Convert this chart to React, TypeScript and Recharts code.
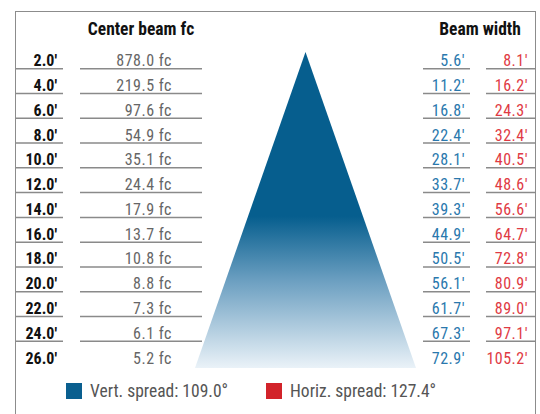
import { ComposedChart, Area, XAxis, YAxis, Legend } from 'recharts';

// rows of the photometric table
const DISTANCES = [2, 4, 6, 8, 10, 12, 14, 16, 18, 20, 22, 24, 26];
const CENTER_FC = [878.0, 219.5, 97.6, 54.9, 35.1, 24.4, 17.9, 13.7, 10.8, 8.8, 7.3, 6.1, 5.2];
const VERT_WIDTH = [5.6, 11.2, 16.8, 22.4, 28.1, 33.7, 39.3, 44.9, 50.5, 56.1, 61.7, 67.3, 72.9];
const HORIZ_WIDTH = [8.1, 16.2, 24.3, 32.4, 40.5, 48.6, 56.6, 64.7, 72.8, 80.9, 89.0, 97.1, 105.2];

// light cone: apex and base (distance, [left, right])
const CONE_DIST = [1.3, 26.8];
const CONE_SPREAD: [number, number][] = [[0, 0], [-1, 1]];

const LEGEND_LABELS = ['Vert. spread: 109.0°', 'Horiz. spread: 127.4°'];
const LEGEND_COLORS = ['#0a5f8f', '#d2232a'];

const FONT = "'Liberation Sans Narrow', 'Arial Narrow', 'Roboto Condensed', sans-serif";
const BLUE_TEXT = '#2a78ad';
const RED_TEXT = '#e03a44';
const RULE = '#8a8a8a';

const chartData = [
  { dist: CONE_DIST[0], cone: CONE_SPREAD[0] },
  ...DISTANCES.map((dist, i) => ({
    dist,
    fc: CENTER_FC[i],
    vert: VERT_WIDTH[i],
    horiz: HORIZ_WIDTH[i],
  })),
  { dist: CONE_DIST[1], cone: CONE_SPREAD[1] },
];

const fmtFeet = (v: number) => `${v.toFixed(1)}'`;

function renderRowTick(props: any) {
  const { y, payload } = props;
  const i = DISTANCES.indexOf(Number(payload.value));
  if (i < 0) return <g />;
  const last = i === DISTANCES.length - 1;
  const base = y + 5.5;
  const ruleY = y + 8;
  const valueStyle = { fontFamily: FONT, fontSize: 16, letterSpacing: 0.5 };
  return (
    <g key={`row-${i}`}>
      <text x={57} y={base} textAnchor="end" fill="#111" style={{ fontFamily: FONT, fontSize: 16, fontWeight: 700 }}>
        {fmtFeet(DISTANCES[i])}
      </text>
      <text x={172} y={base} textAnchor="end" fill="#666" style={valueStyle}>
        {`${CENTER_FC[i].toFixed(1)} fc`}
      </text>
      <text x={465} y={base} textAnchor="end" fill={BLUE_TEXT} style={valueStyle}>
        {fmtFeet(VERT_WIDTH[i])}
      </text>
      <text x={528} y={base} textAnchor="end" fill={RED_TEXT} style={valueStyle}>
        {fmtFeet(HORIZ_WIDTH[i])}
      </text>
      {!last && (
        <g stroke={RULE} strokeWidth={1.5}>
          <line x1={16} x2={63} y1={ruleY} y2={ruleY} />
          <line x1={80} x2={202} y1={ruleY} y2={ruleY} />
          <line x1={423} x2={470} y1={ruleY} y2={ruleY} />
          <line x1={486} x2={536} y1={ruleY} y2={ruleY} />
        </g>
      )}
    </g>
  );
}

function SpreadLegend() {
  return (
    <div style={{ display: 'flex', alignItems: 'center', fontFamily: FONT, fontSize: 17.5, color: '#555' }}>
      {LEGEND_LABELS.map((label, i) => (
        <div key={label} style={{ display: 'flex', alignItems: 'center', width: 200 }}>
          <span style={{ width: 16, height: 16, background: LEGEND_COLORS[i], marginRight: 8, display: 'inline-block' }} />
          <span>{label}</span>
        </div>
      ))}
    </div>
  );
}

export default function App() {
  return (
    <div style={{ position: 'absolute', left: 0, top: 0, width: 540, height: 414, overflow: 'hidden', background: '#fff' }}>
      <div
        style={{
          position: 'absolute',
          left: 15,
          top: 11,
          width: 519,
          height: 420,
          borderLeft: '1.5px solid #8c8c8c',
          borderTop: '1.5px solid #8c8c8c',
          borderRight: '1.5px solid #8c8c8c',
        }}
      />
      <ComposedChart
        width={540}
        height={414}
        data={chartData}
        layout="vertical"
        margin={{ top: 52, right: 124, bottom: 46, left: 194 }}
      >
        <defs>
          <linearGradient id="coneFill" x1="0" y1="0" x2="0" y2="1">
            <stop offset="0" stopColor="#065e8e" />
            <stop offset="0.52" stopColor="#065e8e" />
            <stop offset="0.72" stopColor="#6a9ec0" />
            <stop offset="1" stopColor="#eaf2f8" />
          </linearGradient>
        </defs>
        <XAxis type="number" domain={[-1, 1]} hide />
        <YAxis
          type="number"
          dataKey="dist"
          domain={[CONE_DIST[0], CONE_DIST[1]]}
          ticks={DISTANCES}
          interval={0}
          width={1}
          axisLine={false}
          tickLine={false}
          tick={renderRowTick}
        />
        <text x={141} y={35} textAnchor="middle" fill="#111" style={{ fontFamily: FONT, fontSize: 17.5, fontWeight: 700 }}>
          Center beam fc
        </text>
        <text x={480} y={35} textAnchor="middle" fill="#111" style={{ fontFamily: FONT, fontSize: 17.5, fontWeight: 700 }}>
          Beam width
        </text>
        <Area
          dataKey="cone"
          type="linear"
          connectNulls
          stroke="none"
          fill="url(#coneFill)"
          fillOpacity={1}
          isAnimationActive={false}
        />
        <Legend
          layout="vertical"
          align="center"
          verticalAlign="middle"
          content={<SpreadLegend />}
          wrapperStyle={{ top: 381, left: 66, width: 420, height: 20 }}
        />
      </ComposedChart>
    </div>
  );
}
